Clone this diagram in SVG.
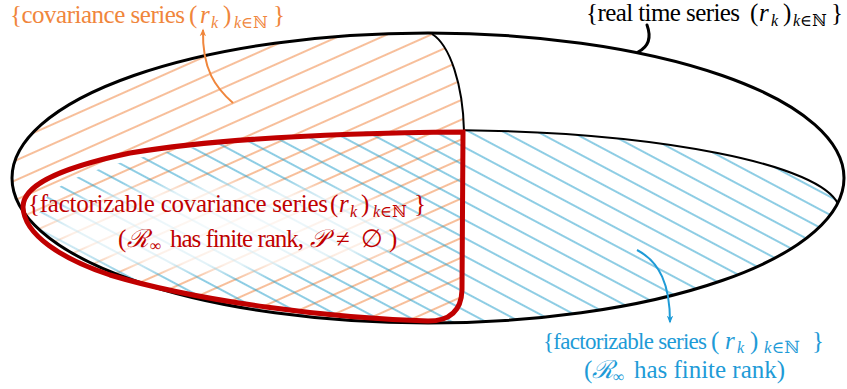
<svg xmlns="http://www.w3.org/2000/svg" width="847" height="389" viewBox="0 0 847 389">
<style>
text{font-family:"Liberation Serif","DejaVu Serif",serif;font-size:25px}
.or{fill:#f0863c}.bk{fill:#000}.rd{fill:#c00000}.bl{fill:#1e9bd7}
.it{font-style:italic}
.sb{font-size:16px}
.hor{stroke:#f08038;stroke-width:1.2}
.hbl{stroke:#1e9cca;stroke-width:1.2}
</style>
<defs>
<pattern id="pOr" patternUnits="userSpaceOnUse" width="40" height="18" patternTransform="rotate(-24)">
<line x1="-5" y1="9" x2="45" y2="9" class="hor"/>
</pattern>
<pattern id="pBl" patternUnits="userSpaceOnUse" width="40" height="16" patternTransform="rotate(28)">
<line x1="-5" y1="8" x2="45" y2="8" class="hbl"/>
</pattern>
<clipPath id="cOuter"><ellipse cx="428" cy="178" rx="416" ry="145"/></clipPath>
<clipPath id="cOr"><path d="M432,34 C450,45 463,85 464,131 L463,300 L440,335 L0,335 L0,0 L432,0 Z"/></clipPath>
<clipPath id="cBl"><path d="M40,212 A400,82 0 0 1 840,212 L847,212 L847,389 L0,389 L0,212 Z"/></clipPath>
<radialGradient id="glow" cx="0.5" cy="0.5" r="0.5">
<stop offset="0" stop-color="#fff" stop-opacity="0.9"/>
<stop offset="0.7" stop-color="#fff" stop-opacity="0.75"/>
<stop offset="1" stop-color="#fff" stop-opacity="0"/>
</radialGradient>
<marker id="aOr" viewBox="0 0 10 10" refX="8" refY="5" markerWidth="8" markerHeight="8" markerUnits="userSpaceOnUse" orient="auto">
<path d="M0,1 L10,5 L0,9 L3,5 Z" fill="#f0863c"/>
</marker>
<marker id="aBl" viewBox="0 0 10 10" refX="8" refY="5" markerWidth="8" markerHeight="8" markerUnits="userSpaceOnUse" orient="auto">
<path d="M0,1 L10,5 L0,9 L3,5 Z" fill="#1e9bd7"/>
</marker>
</defs>

<g id="hatching" clip-path="url(#cOuter)">
<g clip-path="url(#cOr)"><rect x="0" y="0" width="847" height="389" fill="url(#pOr)"/></g>
<g clip-path="url(#cBl)"><rect x="0" y="0" width="847" height="389" fill="url(#pBl)"/></g>
</g>
<ellipse cx="225" cy="228" rx="220" ry="52" fill="url(#glow)"/>

<g id="real-series">
<ellipse cx="428" cy="178" rx="416" ry="145" fill="none" stroke="#000" stroke-width="3"/>
<text class="bk" y="21"><tspan x="586" textLength="154">{real time series</tspan><tspan x="750">(</tspan><tspan x="759" class="it">r</tspan><tspan x="771" y="26" class="it sb">k</tspan><tspan x="783" y="21">)</tspan><tspan x="793" y="26" class="sb"><tspan class="it">k</tspan>∈ℕ</tspan><tspan x="831" y="21">}</tspan></text>
</g>

<g id="covariance-series">
<path d="M432,34 C450,45 463,85 464,131" fill="none" stroke="#000" stroke-width="2"/>
<text class="or" y="23"><tspan x="10" textLength="175">{covariance series</tspan><tspan x="189">(</tspan><tspan x="200" class="it">r</tspan><tspan x="211" y="28" class="it sb">k</tspan><tspan x="223" y="23">)</tspan><tspan x="234" y="28" class="sb"><tspan class="it">k</tspan>∈ℕ</tspan><tspan x="273" y="23">}</tspan></text>
</g>

<g id="factorizable-series">
<path d="M465,130.2 A400,82 0 0 1 838,203.8" fill="none" stroke="#000" stroke-width="2"/>
<text class="bl" y="349"><tspan x="543" textLength="164" style="font-size:23px">{factorizable series</tspan><tspan x="711">(</tspan><tspan x="725" class="it">r</tspan><tspan x="737" y="353" class="it sb">k</tspan><tspan x="750" y="349">)</tspan><tspan x="764" y="353" class="sb" style="font-size:17px"><tspan class="it">k</tspan>∈ℕ</tspan><tspan x="812" y="349">}</tspan></text>
<text class="bl" y="378"><tspan x="584">(</tspan><tspan x="592" class="it">ℛ</tspan><tspan x="613" y="382" class="sb">∞</tspan><tspan x="634" y="378" textLength="151">has finite rank)</tspan></text>
</g>

<g id="factorizable-covariance-series">
<path d="M463,132 L462,290 Q461,321 428,321 C330,318 200,302 110,275 C62,259 24,235 23,207 C23,188 50,170 130,153 C220,138 340,133 463,132 Z" fill="none" stroke="#c00000" stroke-width="5" stroke-linejoin="miter"/>
<text class="rd" y="212"><tspan x="28" textLength="300">{factorizable covariance series</tspan><tspan x="330">(</tspan><tspan x="339" class="it">r</tspan><tspan x="350" y="217" class="it sb">k</tspan><tspan x="361" y="212">)</tspan><tspan x="373" y="217" class="sb"><tspan class="it">k</tspan>∈ℕ</tspan><tspan x="414" y="212">}</tspan></text>
<text class="rd" y="247"><tspan x="118">(</tspan><tspan x="127" class="it">ℛ</tspan><tspan x="150" y="251" class="sb">∞</tspan><tspan x="170" y="247" textLength="134">has finite rank,</tspan><tspan x="310" class="it">𝒫</tspan><tspan x="336">≠</tspan><tspan x="361">∅</tspan><tspan x="389">)</tspan></text>
</g>

<g id="connectors">
<path d="M647,25 C651,36 650,46 638,52" fill="none" stroke="#000" stroke-width="3" stroke-linecap="round"/>
<path d="M233,103 C216,88 202,70 203,30" fill="none" stroke="#f0863c" stroke-width="2" marker-end="url(#aOr)"/>
<path d="M637,250 C660,262 670,285 670,322" fill="none" stroke="#1e9bd7" stroke-width="2" marker-end="url(#aBl)"/>
</g>
</svg>
